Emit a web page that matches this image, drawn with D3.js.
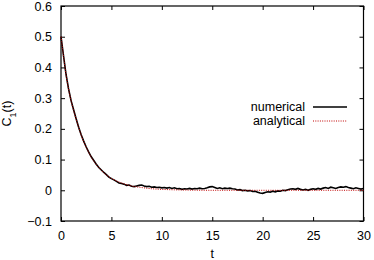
<!DOCTYPE html>
<html>
<head>
<meta charset="utf-8">
<script src="https://cdn.jsdelivr.net/npm/d3@7"></script>
<style>
  body { margin: 0; background: #fff; }
  text { font-family: "Liberation Sans", Arial, sans-serif; font-size: 12.5px; fill: #000; }
</style>
</head>
<body>
<div id="chart"></div>
<script>
// numerical C1(t), sampled every 0.25 from t=0 to t=30
var numStep = 0.25;
var numerical = [
  0.500, 0.438, 0.377, 0.330, 0.292, 0.262, 0.233, 0.205, 0.181, 0.160,
  0.141, 0.124, 0.109, 0.097, 0.085, 0.074, 0.066, 0.058, 0.051, 0.043,
  0.038, 0.034, 0.029, 0.024, 0.022, 0.020, 0.016, 0.017, 0.013, 0.012,
  0.014, 0.016, 0.017, 0.014, 0.012, 0.013, 0.010, 0.011, 0.009, 0.010,
  0.008, 0.009, 0.007, 0.009, 0.006, 0.008, 0.005, 0.006, 0.003, 0.005,
  0.004, 0.006, 0.004, 0.006, 0.005, 0.007, 0.005, 0.006, 0.008, 0.011,
  0.012, 0.009, 0.006, 0.008, 0.005, 0.007, 0.006, 0.007, 0.005, 0.004,
  0.001, 0.002, -0.001, 0.000, -0.002, -0.001, -0.004, -0.003, -0.006, -0.009,
  -0.010, -0.007, -0.005, -0.006, -0.003, -0.005, -0.002, -0.003, 0.000, -0.001,
  0.002, 0.004, 0.005, 0.003, 0.006, 0.003, 0.001, 0.003, 0.000, 0.003,
  0.005, 0.003, 0.006, 0.004, 0.007, 0.009, 0.006, 0.010, 0.008, 0.006,
  0.009, 0.011, 0.010, 0.012, 0.009, 0.007, 0.005, 0.008, 0.006, 0.004,
  0.006
];

// analytical curve
var anaT = [0, 0.25, 0.5, 0.75, 1, 1.25, 1.5, 1.75, 2, 2.5, 3, 3.5, 4, 4.5, 5, 6, 7, 8, 9, 10, 12, 15, 20, 25, 30];
var anaV = [0.5, 0.437, 0.377, 0.33, 0.292, 0.26, 0.232, 0.205, 0.18, 0.14, 0.108, 0.084, 0.065, 0.05, 0.039, 0.024, 0.014, 0.009, 0.005, 0.003, 0.001, 0, 0, 0, 0];

var xTicks = [0, 5, 10, 15, 20, 25, 30];
var yTicks = [-0.1, 0, 0.1, 0.2, 0.3, 0.4, 0.5, 0.6];
var seriesNames = ["numerical", "analytical"];

var W = 374, H = 260;
var margin = {top: 6, right: 10.5, bottom: 39, left: 61},
    width = W - margin.left - margin.right,
    height = H - margin.top - margin.bottom;

var x = d3.scaleLinear().domain([0, 30]).range([0, width]);
var y = d3.scaleLinear().domain([-0.1, 0.6]).range([height, 0]);

var svg = d3.select("#chart").append("svg")
    .attr("width", W)
    .attr("height", H)
  .append("g")
    .attr("transform", "translate(" + margin.left + "," + margin.top + ")");

var tickLen = 4;
var fmt1 = d3.format(".1f");

// bottom / top axes with inward ticks
svg.append("g")
    .attr("transform", "translate(0," + height + ")")
    .call(d3.axisBottom(x).tickValues(xTicks).tickSizeInner(-tickLen).tickSizeOuter(0).tickPadding(10));
svg.append("g")
    .call(d3.axisTop(x).tickValues(xTicks).tickSizeInner(-tickLen).tickSizeOuter(0).tickFormat(""));
svg.append("g")
    .call(d3.axisLeft(y).tickValues(yTicks).tickSizeInner(-tickLen).tickSizeOuter(0).tickPadding(9)
      .tickFormat(function(d) { return Math.abs(d) < 1e-9 ? "0" : fmt1(d); }));
svg.append("g")
    .attr("transform", "translate(" + width + ",0)")
    .call(d3.axisRight(y).tickValues(yTicks).tickSizeInner(-tickLen).tickSizeOuter(0).tickFormat(""));

svg.selectAll(".domain").remove();
svg.selectAll(".tick line").attr("stroke", "#000");
svg.selectAll(".tick text")
    .style("font-family", "'Liberation Sans', Arial, sans-serif")
    .style("font-size", "12.5px");

// frame
svg.append("rect")
    .attr("width", width)
    .attr("height", height)
    .attr("fill", "none")
    .attr("stroke", "#000")
    .attr("stroke-width", 1.2);

var line = d3.line()
    .x(function(d) { return x(d[0]); })
    .y(function(d) { return y(d[1]); });

var numData = numerical.map(function(v, i) { return [i * numStep, v]; });
var anaData = anaT.map(function(t, i) { return [t, anaV[i]]; });

svg.append("path")
    .datum(numData)
    .attr("fill", "none")
    .attr("stroke", "#000")
    .attr("stroke-width", 1.6)
    .attr("d", line);

svg.append("path")
    .datum(anaData)
    .attr("fill", "none")
    .attr("stroke", "#c00000")
    .attr("stroke-width", 1)
    .attr("stroke-dasharray", "1,1.3")
    .attr("d", line.curve(d3.curveMonotoneX));

// axis titles
svg.append("text")
    .attr("x", width / 2)
    .attr("y", height + 37)
    .attr("text-anchor", "middle")
    .text("t");

var yl = svg.append("text")
    .attr("transform", "translate(" + (-50) + "," + (height / 2) + ") rotate(-90)")
    .attr("text-anchor", "middle");
yl.append("tspan").text("C");
yl.append("tspan").attr("baseline-shift", "sub").style("font-size", "9px").text("1");
yl.append("tspan").text("(t)");

// legend
var legend = svg.selectAll(".legend")
    .data(seriesNames)
  .enter().append("g")
    .attr("class", "legend")
    .attr("transform", function(d, i) { return "translate(0," + (101 + i * 14) + ")"; });

legend.append("text")
    .attr("x", 244)
    .attr("dy", "0.35em")
    .attr("text-anchor", "end")
    .text(function(d) { return d; });

legend.append("line")
    .attr("x1", 252)
    .attr("x2", 286)
    .attr("stroke", function(d, i) { return i === 0 ? "#000" : "#c00000"; })
    .attr("stroke-width", function(d, i) { return i === 0 ? 1.3 : 1; })
    .attr("stroke-dasharray", function(d, i) { return i === 0 ? null : "1,1.3"; });
</script>
</body>
</html>
